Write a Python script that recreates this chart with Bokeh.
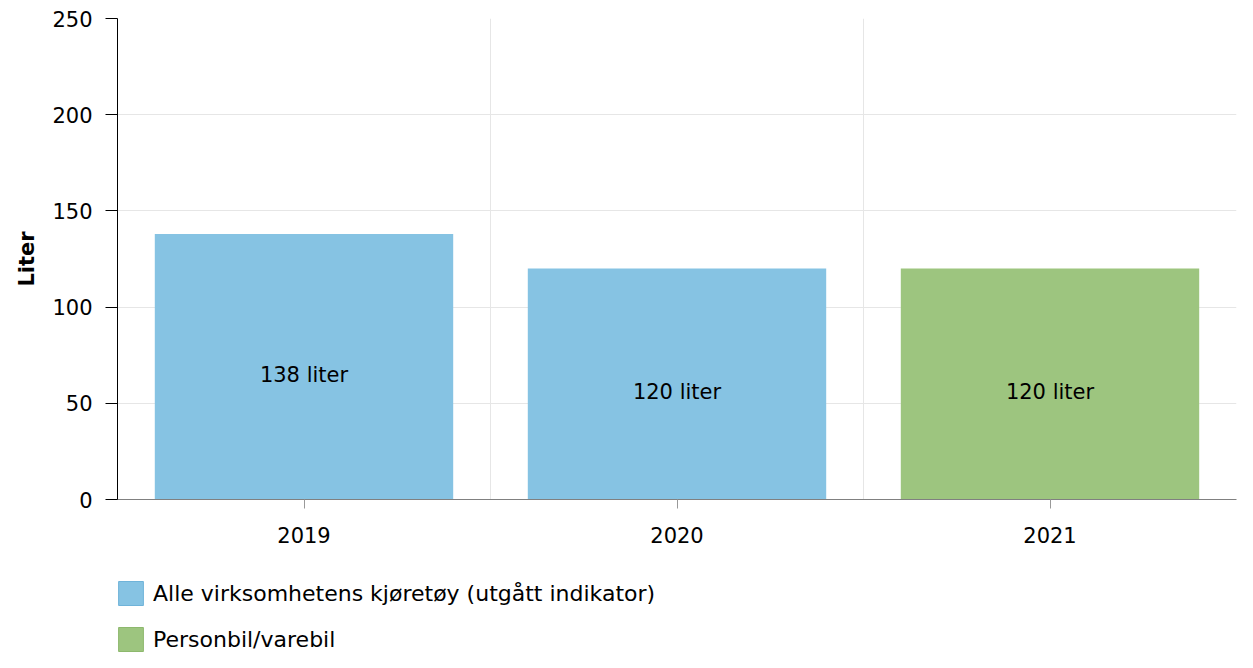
from bokeh.plotting import figure
from bokeh.layouts import column
from bokeh.models import (ColumnDataSource, FixedTicker, Legend, LegendItem,
                          LabelSet, Range1d)
from bokeh.core.properties import value
from bokeh.embed import file_html
from bokeh.resources import INLINE

# ---- data ----
years = ["2019", "2020", "2021"]
values = [138, 120, 120]
series = ["Alle virksomhetens kjøretøy (utgått indikator)",
          "Alle virksomhetens kjøretøy (utgått indikator)",
          "Personbil/varebil"]
series_names = ["Alle virksomhetens kjøretøy (utgått indikator)", "Personbil/varebil"]
series_colors = ["#86c3e3", "#9dc57f"]
legend_edge_colors = ["#6fb3d9", "#8db86d"]
y_ticks = [0, 50, 100, 150, 200, 250]

FONT = "DejaVu Sans"
FS = "21px"
W = 1237
H_MAIN = 560
H_LEG = 92

xpos = [i + 0.5 for i in range(len(years))]
labels = [f"{v} liter" for v in values]
half = [v / 2 for v in values]

src = ColumnDataSource(dict(x=xpos, top=values, label=labels, half=half))

p = figure(width=W, height=H_MAIN, output_backend="svg", toolbar_location=None,
           x_range=Range1d(0, len(years)), y_range=Range1d(0, 250),
           min_border_left=117, min_border_top=18, min_border_right=1,
           min_border_bottom=61)
p.outline_line_color = None
p.background_fill_color = "white"
p.border_fill_color = "white"

for name, col in zip(series_names, series_colors):
    idx = [i for i, s in enumerate(series) if s == name]
    s = ColumnDataSource(dict(x=[xpos[i] for i in idx], top=[values[i] for i in idx]))
    p.vbar(x="x", top="top", width=0.8, source=s, fill_color=col, line_color=None)

lbl = LabelSet(x="x", y="half", text="label", source=src, text_align="center",
               text_baseline="top", text_font=value(FONT), text_font_size=value(FS),
               text_color="#000000", y_offset=4)
p.add_layout(lbl)

# axes
p.yaxis.ticker = FixedTicker(ticks=y_ticks)
p.yaxis.axis_label = "Liter"
p.yaxis.axis_label_text_font = FONT
p.yaxis.axis_label_text_font_style = "bold"
p.yaxis.axis_label_text_font_size = FS
p.yaxis.axis_label_text_color = "#000000"
p.yaxis.axis_label_standoff = 10
p.yaxis.major_label_text_font = FONT
p.yaxis.major_label_text_font_size = FS
p.yaxis.major_label_text_color = "#000000"
p.yaxis.axis_line_color = "#000000"
p.yaxis.major_tick_line_color = "#000000"
p.yaxis.major_tick_out = 12
p.yaxis.major_tick_in = 0
p.yaxis.minor_tick_line_color = None
p.yaxis.major_label_standoff = 13

p.xaxis.ticker = FixedTicker(ticks=xpos)
p.xaxis.major_label_overrides = {x: y for x, y in zip(xpos, years)}
p.xaxis.major_label_text_font = FONT
p.xaxis.major_label_text_font_size = FS
p.xaxis.major_label_text_color = "#000000"
p.xaxis.axis_line_color = "#808080"
p.xaxis.major_tick_line_color = "#999999"
p.xaxis.major_tick_out = 9
p.xaxis.major_tick_in = 0
p.xaxis.minor_tick_line_color = None
p.xaxis.major_label_standoff = 18

p.ygrid.ticker = FixedTicker(ticks=y_ticks)
p.ygrid.grid_line_color = "#e6e6e6"
p.xgrid.ticker = FixedTicker(ticks=list(range(1, len(years) + 1)))
p.xgrid.grid_line_color = "#e6e6e6"

# ---- legend panel (separate figure below, frames aligned with main plot) ----
lf = figure(width=W, height=H_LEG, output_backend="svg", toolbar_location=None,
            x_range=Range1d(0, 1), y_range=Range1d(0, 1),
            x_axis_location=None, y_axis_location=None,
            min_border_left=0, min_border_right=0,
            min_border_top=0, min_border_bottom=0)
lf.grid.visible = False
lf.outline_line_color = None
lf.background_fill_color = "white"
lf.border_fill_color = "white"

nan = float("nan")
items = []
for name, col, edge in zip(series_names, series_colors, legend_edge_colors):
    r = lf.vbar(x="x", top="top", width=0.1,
                source=ColumnDataSource(dict(x=[nan], top=[nan])),
                fill_color=col, line_color=edge, line_width=1)
    items.append(LegendItem(label=name, renderers=[r]))

legend = Legend(items=items, location=(-2, -2), orientation="vertical",
                glyph_width=31, glyph_height=30, spacing=16, padding=0, margin=0,
                label_standoff=7, label_text_font=FONT, label_text_font_size="22px",
                label_text_color="#000000", border_line_color=None,
                background_fill_alpha=0)
lf.add_layout(legend, "center")

layout = column(p, lf, spacing=0)
open("out.html", "w").write(file_html(layout, INLINE))
